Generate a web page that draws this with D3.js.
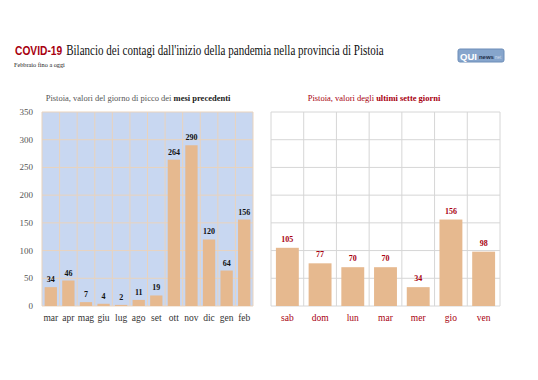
<!DOCTYPE html>
<html><head><meta charset="utf-8">
<script src="https://cdn.jsdelivr.net/npm/d3@7"></script>
<style>body{margin:0;background:#fff}svg{display:block}</style>
</head><body>
<script>
const months = ["mar","apr","mag","giu","lug","ago","set","ott","nov","dic","gen","feb"];
const monthValues = [34,46,7,4,2,11,19,264,290,120,64,156];
const days = ["sab","dom","lun","mar","mer","gio","ven"];
const dayValues = [105,77,70,70,34,156,98];
const yTicks = [0,50,100,150,200,250,300,350];

const W=538,H=380;
const svg=d3.select("body").append("svg").attr("width",W).attr("height",H);
const serif="'Liberation Serif','DejaVu Serif',serif";
const sans="'Liberation Sans','Open Sans',sans-serif";
const red="#a8000f";

// Title: pieces laid out in sequence, then the group is condensed horizontally
const tg=svg.append("g");
const t1=tg.append("text").attr("x",0).attr("y",0).attr("font-family",sans).attr("font-weight","bold")
 .attr("fill",red).attr("font-size",13).text("COVID-19");
const w1=t1.node().getComputedTextLength();
const t2=tg.append("text").attr("x",w1+5).attr("y",0).attr("font-family",serif).attr("font-size",14).attr("fill","#111")
 .text("Bilancio dei contagi dall'inizio della pandemia nella provincia di Pistoia");
const wT=w1+5+t2.node().getComputedTextLength();
tg.attr("transform",`translate(15,55) scale(${369/wT},1)`);

const sg=svg.append("g");
const st=sg.append("text").attr("font-family",serif).attr("font-size",7).attr("fill","#222").text("Febbraio fino a oggi");
sg.attr("transform",`translate(14,67) scale(${51/st.node().getComputedTextLength()},1)`);

// Logo
const lg=svg.append("g").attr("transform","translate(458,49)");
lg.append("rect").attr("width",46).attr("height",13).attr("rx",2).attr("fill","#86a5cc").attr("stroke","#6d8db8");
const li=lg.append("g");
const q=li.append("text").attr("x",0).attr("y",0).attr("font-family",sans).attr("font-weight","bold").attr("font-size",9.5).attr("fill","#fff").text("QUI");
const qw=q.node().getComputedTextLength();
const n=li.append("text").attr("x",qw+2).attr("y",-1).attr("font-family",sans).attr("font-weight","bold").attr("font-size",6).attr("fill","#1c2c48").text("news");
const nw=n.node().getComputedTextLength();
const ne=li.append("text").attr("x",qw+nw+3).attr("y",-1).attr("font-family",sans).attr("font-size",4.5).attr("fill","#d3deee").text("net");
const lw=qw+nw+3+ne.node().getComputedTextLength();
li.attr("transform",`translate(2,11) scale(${Math.min(1,42/lw)},1)`);

const y=d3.scaleLinear().domain([0,350]).range([306,112]);

// Left chart
const xL=d3.scaleBand().domain(months).range([42,253]).paddingInner(0.3).paddingOuter(0.15);
const gL=svg.append("g");
gL.append("rect").attr("x",42).attr("y",112).attr("width",211).attr("height",194).attr("fill","#c8d7f1");
const stepL=211/months.length;
gL.selectAll("line.v").data(d3.range(months.length+1)).join("line")
 .attr("x1",i=>42+i*stepL).attr("x2",i=>42+i*stepL).attr("y1",112).attr("y2",306)
 .attr("stroke","#e9d3bd").attr("stroke-width",1);
gL.selectAll("line.h").data(yTicks).join("line")
 .attr("x1",42).attr("x2",253).attr("y1",d=>y(d)).attr("y2",d=>y(d))
 .attr("stroke","#e9d3bd").attr("stroke-width",1);
gL.selectAll("rect.b").data(monthValues).join("rect")
 .attr("x",(d,i)=>xL(months[i])).attr("width",xL.bandwidth())
 .attr("y",d=>y(d)).attr("height",d=>306-y(d)).attr("fill","#e6b98f");
gL.selectAll("text.v").data(monthValues).join("text")
 .attr("x",(d,i)=>xL(months[i])+xL.bandwidth()/2).attr("y",d=>y(d)-5)
 .attr("text-anchor","middle").attr("font-family",serif).attr("font-weight","bold").attr("font-size",8).attr("fill","#111").text(d=>d);
gL.selectAll("text.c").data(months).join("text")
 .attr("x",d=>xL(d)+xL.bandwidth()/2).attr("y",321)
 .attr("text-anchor","middle").attr("font-family",serif).attr("font-size",9.5).attr("fill","#333").text(d=>d);
gL.selectAll("text.t").data(yTicks).join("text")
 .attr("x",33).attr("y",d=>y(d)+3).attr("text-anchor","end")
 .attr("font-family",serif).attr("font-size",9).attr("fill","#555").text(d=>d);
const tl=gL.append("text").attr("x",138).attr("y",101).attr("text-anchor","middle").attr("font-family",serif).attr("font-size",8.5).attr("fill","#555");
tl.append("tspan").text("Pistoia, valori del giorno di picco dei ");
tl.append("tspan").attr("font-weight","bold").attr("fill","#222").text("mesi precedenti");

// Right chart
const xR=d3.scaleBand().domain(days).range([271,500]).paddingInner(0.3).paddingOuter(0.15);
const gR=svg.append("g");
const stepR=229/days.length;
gR.selectAll("line.v").data(d3.range(days.length+1)).join("line")
 .attr("x1",i=>271+i*stepR).attr("x2",i=>271+i*stepR).attr("y1",112).attr("y2",306)
 .attr("stroke","#d6d6d6");
gR.selectAll("line.h").data(yTicks).join("line")
 .attr("x1",271).attr("x2",500).attr("y1",d=>y(d)).attr("y2",d=>y(d))
 .attr("stroke","#d6d6d6");
gR.selectAll("rect.b").data(dayValues).join("rect")
 .attr("x",(d,i)=>xR(days[i])).attr("width",xR.bandwidth())
 .attr("y",d=>y(d)).attr("height",d=>306-y(d)).attr("fill","#e6b98f");
gR.selectAll("text.v").data(dayValues).join("text")
 .attr("x",(d,i)=>xR(days[i])+xR.bandwidth()/2).attr("y",d=>y(d)-6)
 .attr("text-anchor","middle").attr("font-family",serif).attr("font-weight","bold").attr("font-size",8).attr("fill",red).text(d=>d);
gR.selectAll("text.c").data(days).join("text")
 .attr("x",d=>xR(d)+xR.bandwidth()/2).attr("y",321)
 .attr("text-anchor","middle").attr("font-family",serif).attr("font-size",9.5).attr("fill",red).text(d=>d);
const tr=gR.append("text").attr("x",374).attr("y",101).attr("text-anchor","middle").attr("font-family",serif).attr("font-size",8.5).attr("fill",red);
tr.append("tspan").text("Pistoia, valori degli ");
tr.append("tspan").attr("font-weight","bold").text("ultimi sette giorni");
</script>
</body></html>
